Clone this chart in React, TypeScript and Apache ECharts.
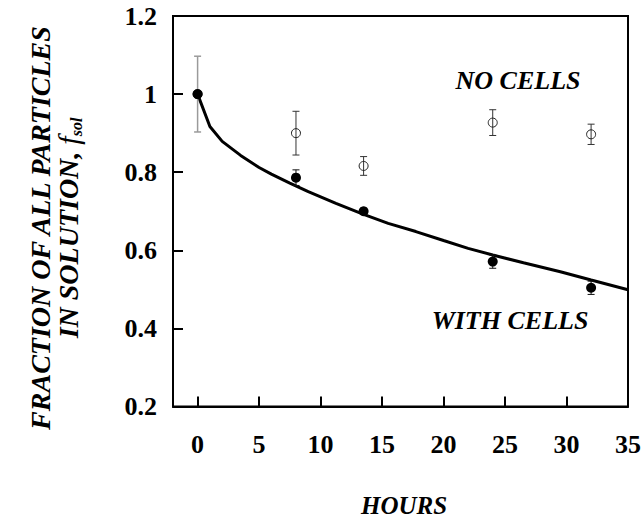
import React, { useEffect, useRef } from "react";
import * as echarts from "echarts";

const curveHours = [0, 1, 2, 3.5, 5, 6, 7.5, 9, 11.25, 13.5, 15.5, 17.75, 20, 22, 24, 26.5, 29.5, 32, 35];
const curveFrac = [1.0, 0.917, 0.879, 0.843, 0.812, 0.795, 0.772, 0.75, 0.72, 0.692, 0.669, 0.648, 0.625, 0.605, 0.588, 0.568, 0.545, 0.524, 0.499];
const sampleHours = [0, 8, 13.5, 24, 32];
const withCells = [1.0, 0.786, 0.7, 0.571, 0.504];
const withCellsErr = [0, 0.02, 0.008, 0.017, 0.017];
const noCells = [1.0, 0.9, 0.816, 0.927, 0.897];
const noCellsErr = [0.097, 0.056, 0.024, 0.033, 0.026];
const xTicks = [0, 5, 10, 15, 20, 25, 30, 35];

const FONT = '"Liberation Serif", "Times New Roman", serif';

function errorBars(hours: number[], vals: number[], errs: number[], color: string, firstColor: string) {
  return {
    type: "custom",
    z: 3,
    data: hours.map((h, i) => [h, vals[i], errs[i]]),
    renderItem: (params: any, api: any) => {
      const x = api.value(0);
      const y = api.value(1);
      const e = api.value(2);
      if (!e) return null;
      const top = api.coord([x, y + e]);
      const bot = api.coord([x, y - e]);
      const cx = top[0];
      const hw = 3.5;
      const stroke = params.dataIndex === 0 ? firstColor : color;
      const style = { stroke, lineWidth: params.dataIndex === 0 ? 1.5 : 1 };
      return {
        type: "group",
        children: [
          { type: "line", shape: { x1: cx, y1: top[1], x2: cx, y2: bot[1] }, style },
          { type: "line", shape: { x1: cx - hw, y1: top[1], x2: cx + hw, y2: top[1] }, style },
          { type: "line", shape: { x1: cx - hw, y1: bot[1], x2: cx + hw, y2: bot[1] }, style },
        ],
      };
    },
  };
}

export default function App() {
  const ref = useRef<HTMLDivElement>(null);
  useEffect(() => {
    if (!ref.current) return;
    const chart = echarts.init(ref.current, null, { renderer: "svg" });
    const axisLabel = { color: "#000", fontFamily: FONT, fontWeight: "bold", fontSize: 26 };
    chart.setOption({
      animation: false,
      backgroundColor: "#fff",
      grid: { left: 173, right: 13, top: 16, bottom: 115.5, show: true, borderColor: "#000", borderWidth: 2, backgroundColor: "transparent" },
      xAxis: {
        type: "value",
        min: -2,
        max: 35,
        splitLine: { show: false },
        axisLine: { show: true, onZero: false, lineStyle: { color: "#000", width: 2 } },
        axisTick: { show: true, inside: true, length: 10, customValues: xTicks, lineStyle: { color: "#000", width: 2 } },
        axisLabel: { ...axisLabel, margin: 25, customValues: xTicks },
      },
      yAxis: {
        type: "value",
        min: 0.2,
        max: 1.2,
        interval: 0.2,
        splitLine: { show: false },
        axisLine: { show: true, onZero: false, lineStyle: { color: "#000", width: 2 } },
        axisTick: { show: true, inside: true, length: 10, lineStyle: { color: "#000", width: 2 } },
        axisLabel: { ...axisLabel, margin: 16, padding: [6, 0, 0, 0], formatter: (v: number) => String(Math.round(v * 10) / 10) },
      },
      series: [
        {
          type: "line",
          z: 2,
          data: curveHours.map((h, i) => [h, curveFrac[i]]),
          symbol: "none",
          lineStyle: { color: "#000", width: 3 },
        },
        {
          type: "scatter",
          z: 4,
          data: sampleHours.map((h, i) => [h, noCells[i]]),
          symbol: "circle",
          symbolSize: 9,
          itemStyle: { color: "transparent", borderColor: "#222", borderWidth: 1, opacity: 1 },
        },
        errorBars(sampleHours, noCells, noCellsErr, "#333", "#9a9a9a"),
        errorBars(sampleHours, withCells, withCellsErr, "#111", "#111"),
        {
          type: "scatter",
          z: 5,
          data: sampleHours.map((h, i) => [h, withCells[i]]),
          symbol: "circle",
          symbolSize: 10,
          itemStyle: { color: "#000", opacity: 1 },
        },
      ],
      graphic: [
        {
          type: "text",
          x: 518,
          y: 80,
          style: { text: "NO CELLS", font: `italic bold 26px ${FONT}`, fill: "#000", align: "center", verticalAlign: "middle" },
        },
        {
          type: "text",
          x: 510,
          y: 320,
          style: { text: "WITH CELLS", font: `italic bold 26px ${FONT}`, fill: "#000", align: "center", verticalAlign: "middle" },
        },
        {
          type: "text",
          x: 404,
          y: 493,
          style: { text: "HOURS", font: `italic bold 25px ${FONT}`, fill: "#000", align: "center", verticalAlign: "top" },
        },
        {
          type: "text",
          x: 40,
          y: 228,
          rotation: Math.PI / 2,
          style: { text: "FRACTION OF ALL PARTICLES", font: `italic bold 28px ${FONT}`, fill: "#000", align: "center", verticalAlign: "middle" },
        },
        {
          type: "text",
          x: 68,
          y: 228,
          rotation: Math.PI / 2,
          style: {
            text: "{a|IN SOLUTION, }{b|f}{c|sol}",
            align: "center",
            verticalAlign: "middle",
            rich: {
              a: { font: `italic bold 28px ${FONT}`, fill: "#000", lineHeight: 32, verticalAlign: "middle" },
              b: { font: `italic 30px ${FONT}`, fill: "#000", lineHeight: 32, verticalAlign: "middle" },
              c: { font: `italic bold 16px ${FONT}`, fill: "#000", lineHeight: 32, verticalAlign: "bottom" },
            },
          },
        },
      ],
    });
    return () => chart.dispose();
  }, []);
  return <div ref={ref} style={{ position: "absolute", left: 0, top: 0, width: 644, height: 522 }} />;
}
